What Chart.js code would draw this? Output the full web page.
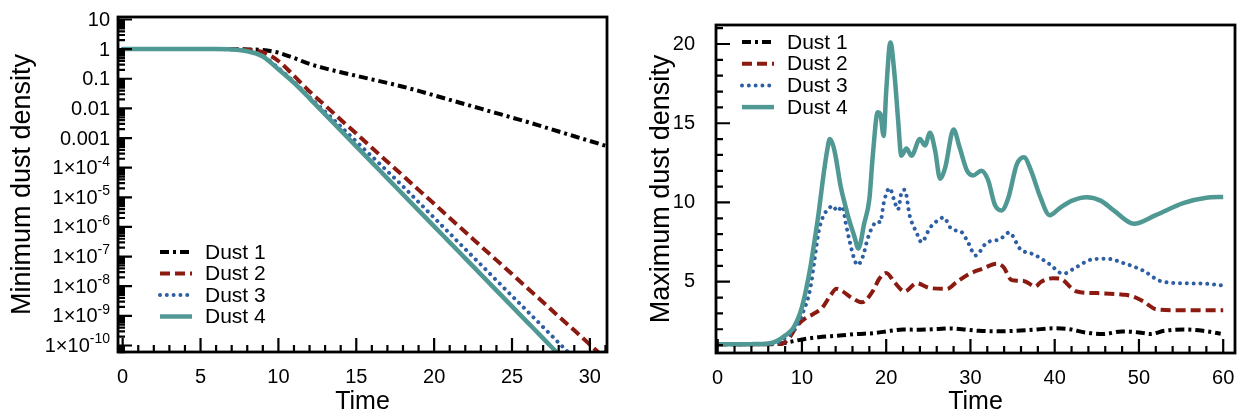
<!DOCTYPE html>
<html>
<head>
<meta charset="utf-8">
<script src="https://cdn.jsdelivr.net/npm/chart.js@4.4.1/dist/chart.umd.min.js"></script>
<style>
  body { margin: 0; background: #fff; }
  .box { position: absolute; top: 0; height: 415px; }
  #leftBox { left: 0; width: 620px; }
  #rightBox { left: 620px; width: 623px; }
</style>
</head>
<body>
<div class="box" id="leftBox"><canvas id="minChart"></canvas></div>
<div class="box" id="rightBox"><canvas id="maxChart"></canvas></div>
<script>
// ---- left panel: minimum dust density, one sample per time unit ----
const minTime = [0,1,2,3,4,5,6,7,8,9,10,11,12,13,14,15,16,17,18,19,20,21,22,23,24,25,26,27,28,29,30,31,32];
const minDust1 = [1,1,1,1,1,1,1,1,0.98,0.933,0.759,0.501,0.316,0.224,0.166,0.126,0.0955,0.0724,0.0537,0.0389,0.0275,0.0195,0.0138,0.00977,0.00692,0.0049,0.00347,0.0024,0.00166,0.00115,0.000794,0.00055,0.00038];
const minDust2 = [1,1,1,1,1,1,1,1,0.96,0.79,0.398,0.126,0.0372,0.0126,0.00417,0.00141,4.68e-4,1.58e-4,5.37e-5,1.78e-5,6.03e-6,2.0e-6,6.76e-7,2.24e-7,7.59e-8,2.57e-8,8.51e-9,2.88e-9,9.55e-10,3.24e-10,1.07e-10,3.63e-11];
const minDust3 = [1,1,1,1,1,1,1,0.98,0.871,0.589,0.229,0.0794,0.024,0.00776,0.00245,7.59e-4,2.4e-4,7.59e-5,2.34e-5,6.92e-6,2.04e-6,6.03e-7,1.78e-7,5.37e-8,1.58e-8,4.68e-9,1.41e-9,4.17e-10,1.23e-10,3.63e-11];
const minDust4 = [1,1,1,1,1,1,1,0.977,0.851,0.562,0.209,0.0724,0.0219,0.00631,0.00182,5.25e-4,1.51e-4,4.37e-5,1.26e-5,3.63e-6,1.05e-6,3.02e-7,8.71e-8,2.51e-8,7.24e-9,2.09e-9,6.03e-10,1.74e-10,5.01e-11];

const minXTicks = [0,5,10,15,20,25,30];
const minYTicks = [1e-10,1e-9,1e-8,1e-7,1e-6,1e-5,1e-4,0.001,0.01,0.1,1,10];
const minYTickText = ['1×10^-10','1×10^-9','1×10^-8','1×10^-7','1×10^-6','1×10^-5','1×10^-4','0.001','0.01','0.1','1','10'];

// ---- right panel: maximum dust density ----
const maxTime1 = [0,7,8.5,10.5,12,14.5,16.5,18.5,20.5,22,24,26,27.6,29,31,33.5,35.5,37.5,40,41.8,43.6,45.75,48,50,51.4,53,55.5,57.6,59.7];
const maxDust1 = [1.05,1.07,1.2,1.4,1.5,1.6,1.7,1.75,1.9,1.98,1.97,2.01,2.05,2.0,1.9,1.87,1.9,1.97,2.06,2.0,1.8,1.7,1.86,1.8,1.7,1.9,1.98,1.9,1.72];

const maxTime2 = [0,6,7,7.7,8.5,9.4,10.3,11.3,12.4,13.4,14.1,14.8,16.0,17.1,18.4,19.2,20.0,21.0,22.2,23.6,25.2,27.2,28.4,29.9,31.5,33.1,33.9,34.9,36.3,37.7,38.4,39.8,40.6,42.6,45,48.1,49.3,50.5,52.1,54.9,60];
const maxDust2 = [1.05,1.05,1.06,1.1,1.45,2.2,2.65,2.95,3.35,4.15,4.55,4.4,3.95,3.7,4.4,5.2,5.55,4.95,4.38,4.9,4.6,4.55,5.0,5.5,5.83,6.14,5.93,5.1,5.05,4.7,5.0,5.22,5.2,4.38,4.28,4.18,4.07,3.76,3.25,3.2,3.2];

const maxTime3 = [0,6,7,8,9,10,11,11.5,12,12.5,13.25,13.65,14.2,14.8,15.2,15.6,16.2,16.6,17.2,17.8,18.4,19.0,19.3,19.7,20.4,21.0,21.4,21.8,22.2,22.8,23.6,24.2,25.2,26.2,26.8,27.8,28.9,29.7,30.6,31.9,33.5,34.6,35.9,37.6,39.4,41.0,42.6,44.4,46.2,48.3,50.5,52.5,55.3,57.6,60];
const maxDust3 = [1.05,1.05,1.12,1.45,1.9,2.9,4.6,6.4,8.2,9.1,9.65,9.8,9.45,9.75,8.7,7.7,6.45,6.05,6.55,7.7,8.5,8.8,8.75,9.95,10.9,10.05,9.55,10.6,10.8,9.15,8.1,7.5,8.4,8.9,9.05,8.3,8.15,7.5,6.65,7.45,7.68,8.1,7.07,6.7,6.1,5.5,5.93,6.4,6.45,6.15,5.7,5.05,4.9,4.88,4.76];

const maxTime4 = [0,4,6,7,8,9,10,11,11.5,12,12.5,13,13.3,13.7,14,14.6,15.2,15.6,16.2,16.7,17.4,18,18.4,19,19.3,19.7,20,20.5,21,21.4,21.8,22.4,23,24,24.6,25.2,25.8,26.4,27,28,28.7,29.6,30.3,31.3,32.1,32.9,33.7,34.5,35.5,36.35,37.2,38.25,39.4,40.6,42,43.8,45.5,47,49.4,52,55.25,58,60];
const maxDust4 = [1.05,1.06,1.1,1.25,1.6,2.1,3.4,5.9,7.6,9.4,11.5,13.3,14.0,13.6,12.9,11.0,9.7,8.9,7.9,7.1,8.7,10.2,12.9,15.7,15.6,14.2,17.0,20.1,18.0,15.3,12.95,13.4,12.95,14.0,13.6,14.4,13.3,11.5,12.2,14.6,13.5,12.0,11.7,12.0,11.4,9.85,9.5,10.3,12.4,12.85,12.0,10.4,9.2,9.65,10.1,10.33,10.1,9.5,8.66,9.2,9.96,10.3,10.35];

const maxXTicks = [0,10,20,30,40,50,60];
const maxYTicks = [5,10,15,20];

const labels = ['Dust 1','Dust 2','Dust 3','Dust 4'];

const FONT = '"Liberation Sans", Arial, Helvetica, sans-serif';
Chart.defaults.font.family = FONT;
Chart.defaults.color = '#000';

const styles = [
  { color: '#000000', width: 4, dash: [9, 4, 3, 4], cap: 'butt', order: 4 },
  { color: '#8b1a10', width: 4, dash: [10, 5], cap: 'butt', order: 3 },
  { color: '#2e5fa3', width: 4, dash: [0.01, 6.8], cap: 'round', order: 2 },
  { color: '#4f9893', width: 4.5, dash: [], cap: 'butt', order: 1 }
];

const mkSet = (i, xs, ys) => ({
  label: labels[i],
  data: ys.map((v, k) => ({ x: xs[k], y: v })),
  borderColor: styles[i].color,
  borderWidth: styles[i].width,
  borderDash: styles[i].dash,
  borderCapStyle: styles[i].cap,
  borderJoinStyle: 'round',
  order: styles[i].order,
  pointRadius: 0,
  fill: false,
  cubicInterpolationMode: 'monotone'
});

const range = (a, b, step) => {
  const out = [];
  for (let v = a; v <= b + 1e-9; v += step) out.push(v);
  return out;
};

// frame, inward ticks and legend drawn on top of the data
const axisMarks = {
  id: 'axisMarks',
  afterDatasetsDraw(chart, args, o) {
    const { ctx, chartArea: a } = chart;
    const xs = chart.scales.x, ys = chart.scales.y;
    ctx.save();
    ctx.strokeStyle = '#000';
    ctx.lineWidth = 2.2;
    ctx.beginPath();
    const xTick = (v, len) => {
      const p = xs.getPixelForValue(v);
      if (p < a.left - 0.5 || p > a.right + 0.5) return;
      ctx.moveTo(p, a.bottom); ctx.lineTo(p, a.bottom - len);
    };
    const yTick = (v, len) => {
      const p = ys.getPixelForValue(v);
      if (p < a.top - 0.5 || p > a.bottom + 0.5) return;
      ctx.moveTo(a.left, p); ctx.lineTo(a.left + len, p);
    };
    o.xMajor.forEach(v => xTick(v, 14));
    o.xMinor.forEach(v => xTick(v, 7));
    o.yMajor.forEach(v => yTick(v, 14));
    o.yMinor.forEach(v => yTick(v, 7));
    ctx.stroke();
    ctx.lineWidth = 2.8;
    ctx.strokeRect(a.left, a.top, a.right - a.left, a.bottom - a.top);

    chart.data.datasets.forEach((ds, i) => {
      const y = o.legendY + i * o.legendGap;
      ctx.setLineDash(ds.borderDash);
      ctx.lineCap = ds.borderCapStyle;
      ctx.lineWidth = ds.borderWidth;
      ctx.strokeStyle = ds.borderColor;
      ctx.beginPath();
      ctx.moveTo(o.legendX, y);
      ctx.lineTo(o.legendX + 32, y);
      ctx.stroke();
      ctx.setLineDash([]);
      ctx.fillStyle = '#000';
      ctx.font = '21px ' + FONT;
      ctx.textAlign = 'left';
      ctx.textBaseline = 'middle';
      ctx.fillText(ds.label, o.legendX + 45, y + 1);
    });
    ctx.restore();
  }
};

// log axis labels with a raised exponent
const logLabels = {
  id: 'logLabels',
  afterDraw(chart, args, o) {
    if (!o.values) return;
    const ctx = chart.ctx, ys = chart.scales.y;
    ctx.save();
    ctx.fillStyle = '#000';
    ctx.textAlign = 'right';
    ctx.textBaseline = 'middle';
    o.values.forEach((v, i) => {
      const py = ys.getPixelForValue(v);
      const parts = o.text[i].split('^');
      let right = o.right;
      if (parts.length > 1) {
        ctx.font = '14px ' + FONT;
        ctx.fillText(parts[1], right, py - 6);
        right -= ctx.measureText(parts[1]).width;
      }
      ctx.font = '20px ' + FONT;
      ctx.fillText(parts[0], right, py + 1);
    });
    ctx.restore();
  }
};

const logMinor = [];
for (let d = -11; d <= 1; d++) {
  for (let m = 2; m <= 9; m++) logMinor.push(m * Math.pow(10, d));
}

new Chart(document.getElementById('minChart'), {
  type: 'line',
  data: {
    datasets: [
      mkSet(0, minTime, minDust1),
      mkSet(1, minTime, minDust2),
      mkSet(2, minTime, minDust3),
      mkSet(3, minTime, minDust4)
    ]
  },
  options: {
    responsive: true,
    maintainAspectRatio: false,
    animation: false,
    layout: { padding: { top: 17, right: 13, left: 0, bottom: 0 } },
    plugins: {
      legend: { display: false },
      tooltip: { enabled: false },
      axisMarks: {
        xMajor: minXTicks, xMinor: range(0, 31, 1),
        yMajor: minYTicks, yMinor: logMinor,
        legendX: 160, legendY: 252, legendGap: 21.5
      },
      logLabels: { values: minYTicks, text: minYTickText, right: 110 }
    },
    scales: {
      x: {
        type: 'linear', min: -0.3, max: 31.1,
        grid: { display: false }, border: { display: false },
        afterBuildTicks: s => { s.ticks = minXTicks.map(v => ({ value: v })); },
        afterFit: s => { s.height = 63; },
        ticks: { autoSkip: false, maxRotation: 0, padding: 5, font: { size: 20 }, callback: v => String(v) },
        title: { display: true, text: 'Time', font: { size: 25, lineHeight: 1 }, padding: 0 }
      },
      y: {
        type: 'logarithmic', min: Math.pow(10, -10.22), max: Math.pow(10, 1.084),
        grid: { display: false }, border: { display: false },
        ticks: { display: false },
        afterFit: s => { s.width = 118; },
        title: { display: true, text: 'Minimum dust density', font: { size: 27, lineHeight: 1 }, padding: { top: 9, bottom: 0 } }
      }
    }
  },
  plugins: [axisMarks, logLabels]
});

new Chart(document.getElementById('maxChart'), {
  type: 'line',
  data: {
    datasets: [
      mkSet(0, maxTime1, maxDust1),
      mkSet(1, maxTime2, maxDust2),
      mkSet(2, maxTime3, maxDust3),
      mkSet(3, maxTime4, maxDust4)
    ]
  },
  options: {
    responsive: true,
    maintainAspectRatio: false,
    animation: false,
    layout: { padding: { top: 18, right: 8, left: 20, bottom: 0 } },
    plugins: {
      legend: { display: false },
      tooltip: { enabled: false },
      axisMarks: {
        xMajor: maxXTicks, xMinor: range(0, 60, 2),
        yMajor: maxYTicks, yMinor: range(1, 21, 1),
        legendX: 122, legendY: 42, legendGap: 21.7
      },
      logLabels: {}
    },
    scales: {
      x: {
        type: 'linear', min: -0.2, max: 61.4,
        grid: { display: false }, border: { display: false },
        afterBuildTicks: s => { s.ticks = maxXTicks.map(v => ({ value: v })); },
        afterFit: s => { s.height = 62; },
        ticks: { autoSkip: false, maxRotation: 0, padding: 5, font: { size: 20 }, callback: v => String(v) },
        title: { display: true, text: 'Time', font: { size: 25, lineHeight: 1 }, padding: 0 }
      },
      y: {
        type: 'linear', min: 0.5, max: 21.2,
        grid: { display: false }, border: { display: false },
        afterBuildTicks: s => { s.ticks = maxYTicks.map(v => ({ value: v })); },
        afterFit: s => { s.width = 76; },
        ticks: { autoSkip: false, padding: 13, font: { size: 20 }, callback: v => String(v) },
        title: { display: true, text: 'Maximum dust density', font: { size: 27, lineHeight: 1 }, padding: { top: 8.5, bottom: 0 } }
      }
    }
  },
  plugins: [axisMarks, logLabels]
});
</script>
</body>
</html>
